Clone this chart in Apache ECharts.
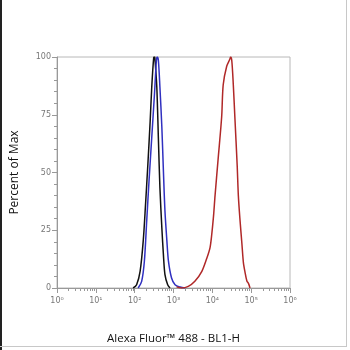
<!DOCTYPE html>
<html>
<head>
<meta charset="utf-8">
<script src="https://cdn.jsdelivr.net/npm/echarts@6/dist/echarts.min.js"></script>
<style>html,body{margin:0;padding:0;background:#fff}#c{width:350px;height:350px}</style>
</head>
<body>
<div id="c"></div>
<script>
// x values are log10 of fluorescence intensity (BL1-H), y values are percent of max
const blackLogX = [1.96,2.05,2.14,2.22,2.28,2.34,2.40,2.44,2.49,2.51,2.52,2.57,2.61,2.65,2.70,2.74,2.78,2.85,2.91];
const blackPct  = [0,1.4,7.2,20.3,36.2,53.6,72.5,87,99.7,100,99.7,87,65.2,43.5,26,14.5,5.8,1.4,0];
const blueLogX = [2.09,2.18,2.25,2.31,2.37,2.44,2.51,2.56,2.58,2.61,2.65,2.70,2.74,2.78,2.83,2.87,2.95,3.04,3.17,3.30];
const bluePct  = [0,2.9,11.6,29,46.4,65.2,84,98.6,100,98.6,87,69.6,50.7,33.3,20.3,11.6,4.3,1.4,0.4,0];
const redLogX = [3.08,3.21,3.38,3.55,3.73,3.86,3.94,3.98,4.03,4.07,4.15,4.24,4.28,4.37,4.45,4.47,4.50,4.54,4.58,4.64,4.67,4.71,4.76,4.80,4.84,4.89,4.93,4.97];
const redPct  = [0.5,0,0.7,2.9,7.2,13,17.4,22.4,31,40,56,74,88,96,99,100,98.6,88,74,53,40,30,19.5,11,7,3,2,0];
const xDecades = [0,1,2,3,4,5,6];
const yTicks = [0,25,50,75,100];
const sup = ['⁰','¹','²','³','⁴','⁵','⁶'];

const minorX = [];
for (let d = 0; d < 6; d++) for (let m = 2; m <= 9; m++) minorX.push(d + Math.log10(m));

function pairs(xs, ys){ return xs.map((x,i)=>[x, ys[i]]); }

const chart = echarts.init(document.getElementById('c'), null, {renderer:'canvas'});
const font = 'DejaVu Sans';
chart.setOption({
  animation:false,
  backgroundColor:'#fff',
  grid:{left:57,right:60,top:57,bottom:60,show:true,borderColor:'#b8b8b8',borderWidth:1},
  xAxis:[{
    type:'value',min:0,max:6,
    name:'Alexa Fluor™ 488 - BL1-H',nameLocation:'middle',nameGap:45,
    nameTextStyle:{fontSize:11.5,color:'#111',fontFamily:'Open Sans'},
    axisLine:{lineStyle:{color:'#999'}},
    axisTick:{show:true,length:5,customValues:xDecades,lineStyle:{color:'#999'}},
    axisLabel:{customValues:xDecades,fontSize:8,color:'#777',fontFamily:font,margin:9,formatter:v=>'10'+sup[Math.round(v)]},
    splitLine:{show:false}
  },{
    type:'value',min:0,max:6,position:'bottom',
    axisLine:{show:false},
    axisTick:{show:true,length:3,customValues:minorX,lineStyle:{color:'#999'}},
    axisLabel:{show:false},splitLine:{show:false}
  }],
  yAxis:{
    type:'value',min:0,max:100,interval:25,
    name:'Percent of Max',nameLocation:'middle',nameGap:36,
    nameTextStyle:{fontSize:12,color:'#111',fontFamily:'Open Sans'},
    axisLine:{show:true,lineStyle:{color:'#999'}},
    axisTick:{show:true,length:5,lineStyle:{color:'#999'}},
    minorTick:{show:true,splitNumber:5,length:3,lineStyle:{color:'#999'}},
    axisLabel:{fontSize:8,color:'#777',fontFamily:font,margin:6},
    splitLine:{show:false}
  },
  series:[
    {type:'line',data:pairs(blackLogX,blackPct),showSymbol:false,smooth:0.3,lineStyle:{color:'#111',width:1.5}},
    {type:'line',data:pairs(blueLogX,bluePct),showSymbol:false,smooth:0.3,lineStyle:{color:'#3030c0',width:1.5}},
    {type:'line',data:pairs(redLogX,redPct),showSymbol:false,smooth:0.3,lineStyle:{color:'#b02828',width:1.5}}
  ],
  graphic:[
    {type:'line',shape:{x1:1,y1:0,x2:1,y2:350},style:{stroke:'#222',lineWidth:2}},
    {type:'line',shape:{x1:346.5,y1:0,x2:346.5,y2:347},style:{stroke:'#c8c8c8',lineWidth:1}},
    {type:'line',shape:{x1:0,y1:346.5,x2:347,y2:346.5},style:{stroke:'#c8c8c8',lineWidth:1}}
  ]
});
</script>
</body>
</html>
